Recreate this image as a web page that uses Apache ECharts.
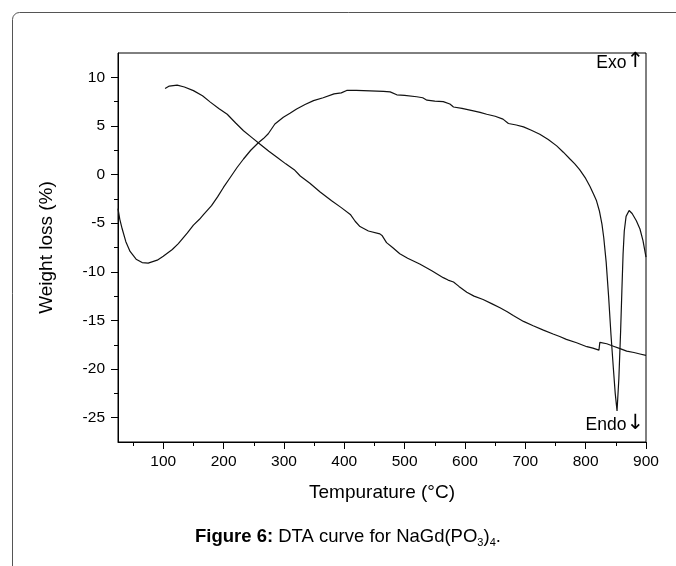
<!DOCTYPE html>
<html>
<head>
<meta charset="utf-8">
<script src="https://cdn.jsdelivr.net/npm/echarts@6/dist/echarts.min.js"></script>
<style>
html,body{margin:0;padding:0;background:#fff;}
#chart{width:676px;height:566px;}
</style>
</head>
<body>
<div id="chart"></div>
<script>
// ---- data ----
const xMajorTicks = [100, 200, 300, 400, 500, 600, 700, 800, 900];
const xMinorTicks = [50, 150, 250, 350, 450, 550, 650, 750, 850];
const yMajorTicks = [-25, -20, -15, -10, -5, 0, 5, 10];
const yMinorTicks = [-22.5, -17.5, -12.5, -7.5, -2.5, 2.5, 7.5];

// DTA curve (temperature °C, signal)
const dtaTemp = [25,28,32,38,45,55,65,75,90,100,115,125,140,150,160,167,180,190,200,211,222,233,245,258,266,274,285,299,310,321,335,349,365,383,395,404,420,443,465,476,487,500,520,530,537,550,564,575,581,595,614,625,636,650,663,672,685,697,710,724,738,752,763,774,782,790,800,807,813,818,823,827,830,834,838,842,846,849,852,855,858,860,862,864,867,872,877,884,890,895,900];
const dtaValue = [-3.5,-4.6,-5.6,-6.9,-7.9,-8.7,-9.05,-9.1,-8.8,-8.4,-7.7,-7.1,-6.0,-5.2,-4.6,-4.1,-3.2,-2.3,-1.3,-0.3,0.7,1.6,2.5,3.3,3.7,4.2,5.2,5.9,6.3,6.75,7.2,7.6,7.9,8.3,8.4,8.65,8.65,8.6,8.55,8.5,8.2,8.15,8.0,7.9,7.65,7.55,7.5,7.25,6.95,6.8,6.55,6.4,6.2,6.0,5.7,5.25,5.1,4.9,4.55,4.15,3.6,2.95,2.3,1.6,1.1,0.5,-0.4,-1.2,-2.0,-2.7,-3.8,-5.1,-6.5,-9.0,-12.5,-16.5,-20.0,-22.5,-24.3,-21.0,-16.0,-12.0,-8.2,-5.8,-4.3,-3.7,-4.0,-4.75,-5.6,-6.8,-8.5];

// Weight loss curve (temperature °C, %)
const tgTemp = [103,110,123,135,150,165,178,192,206,220,233,247,261,275,289,303,317,327,343,360,379,395,410,418,426,440,459,463,470,480,492,505,525,545,564,572,581,590,603,615,630,645,658,670,680,697,713,730,746,757,768,785,802,812,822,823.5,835,846,857,868,880,890,900];
const tgValue = [8.85,9.1,9.2,9.0,8.63,8.1,7.45,6.8,6.2,5.3,4.5,3.8,3.1,2.4,1.75,1.1,0.5,-0.15,-0.9,-1.8,-2.7,-3.4,-4.1,-4.8,-5.35,-5.8,-6.1,-6.3,-7.0,-7.5,-8.15,-8.6,-9.2,-9.9,-10.6,-10.85,-11.05,-11.5,-12.1,-12.5,-12.85,-13.3,-13.7,-14.1,-14.5,-15.1,-15.55,-16.0,-16.4,-16.65,-16.95,-17.3,-17.7,-17.85,-18.05,-17.25,-17.4,-17.65,-17.9,-18.15,-18.3,-18.45,-18.6];

const xTitle = 'Tempurature (°C)';
const yTitle = 'Weight loss (%)';

const FONT = '"Liberation Sans", Arial, sans-serif';
const pair = (xs, ys) => xs.map((x, i) => [x, ys[i]]);

const chart = echarts.init(document.getElementById('chart'), null, {renderer: 'canvas'});
const axisText = {color: '#000', fontSize: 15.5, fontFamily: FONT};

chart.setOption({
  animation: false,
  backgroundColor: '#fff',
  grid: {left: 118, right: 30, top: 53, bottom: 124, show: true, borderColor: '#000', borderWidth: 1, containLabel: false, outerBoundsMode: 'none'},
  xAxis: [
    {type: 'value', min: 25, max: 900, position: 'bottom',
     name: xTitle, nameLocation: 'middle', nameGap: 41,
     nameTextStyle: {color: '#000', fontSize: 19, fontFamily: FONT},
     axisLine: {show: true, onZero: false, lineStyle: {color: '#000', width: 1}},
     axisTick: {show: true, length: 7, customValues: xMajorTicks, lineStyle: {color: '#000'}},
     axisLabel: Object.assign({customValues: xMajorTicks, margin: 12}, axisText),
     splitLine: {show: false}},
    {type: 'value', min: 25, max: 900, position: 'bottom',
     axisLine: {show: false, onZero: false},
     axisTick: {show: true, length: 4, customValues: xMinorTicks, lineStyle: {color: '#000'}},
     axisLabel: {show: false}, splitLine: {show: false}}
  ],
  yAxis: [
    {type: 'value', min: -27.5, max: 12.5, position: 'left',
     name: yTitle, nameLocation: 'middle', nameGap: 62,
     nameTextStyle: {color: '#000', fontSize: 19, fontFamily: FONT},
     axisLine: {show: true, onZero: false, lineStyle: {color: '#000', width: 1}},
     axisTick: {show: true, length: 7, customValues: yMajorTicks, lineStyle: {color: '#000'}},
     axisLabel: Object.assign({customValues: yMajorTicks, margin: 13}, axisText),
     splitLine: {show: false}},
    {type: 'value', min: -27.5, max: 12.5, position: 'left',
     axisLine: {show: false, onZero: false},
     axisTick: {show: true, length: 4, customValues: yMinorTicks, lineStyle: {color: '#000'}},
     axisLabel: {show: false}, splitLine: {show: false}}
  ],
  series: [
    {type: 'line', name: 'DTA', data: pair(dtaTemp, dtaValue), showSymbol: false, symbol: 'none',
     lineStyle: {color: '#111', width: 1.2}, xAxisIndex: 0, yAxisIndex: 0},
    {type: 'line', name: 'Weight loss', data: pair(tgTemp, tgValue), showSymbol: false, symbol: 'none',
     lineStyle: {color: '#111', width: 1.2}, xAxisIndex: 0, yAxisIndex: 0}
  ],
  graphic: [
    {type: 'rect', left: 10, top: 10, shape: {width: 720, height: 620, r: 7}, silent: true,
     style: {fill: 'none', stroke: '#555', lineWidth: 1}},
    {type: 'text', right: 32, top: 51, silent: true,
     style: {text: '{t|Exo}{a|\u2191}', fill: '#000', fontFamily: FONT,
       rich: {t: {fontSize: 17.5, fontFamily: FONT, fill: '#000', lineHeight: 22, verticalAlign: 'bottom'},
              a: {fontSize: 21, fontFamily: '"DejaVu Sans"', fill: '#000', lineHeight: 22, verticalAlign: 'bottom'}}}},
    {type: 'text', right: 32, top: 413, silent: true,
     style: {text: '{t|Endo}{a|\u2193}', fill: '#000', fontFamily: FONT,
       rich: {t: {fontSize: 17.5, fontFamily: FONT, fill: '#000', lineHeight: 22, verticalAlign: 'bottom'},
              a: {fontSize: 21, fontFamily: '"DejaVu Sans"', fill: '#000', lineHeight: 22, verticalAlign: 'bottom'}}}},
    {type: 'text', left: 195, top: 527, silent: true,
     style: {
       text: '{b|Figure 6:} {n|DTA curve for NaGd(PO}{s|3}{n|)}{s|4}{n|.}',
       fill: '#000', fontFamily: FONT, fontSize: 18.5,
       rich: {
         b: {fontWeight: 'bold', fontSize: 18.5, fontFamily: FONT, fill: '#000', lineHeight: 24, verticalAlign: 'middle'},
         n: {fontSize: 18.5, fontFamily: FONT, fill: '#000', lineHeight: 24, verticalAlign: 'middle'},
         s: {fontSize: 11, fontFamily: FONT, fill: '#000', lineHeight: 11, verticalAlign: 'bottom'}
       }
     }}
  ]
});
</script>
</body>
</html>
